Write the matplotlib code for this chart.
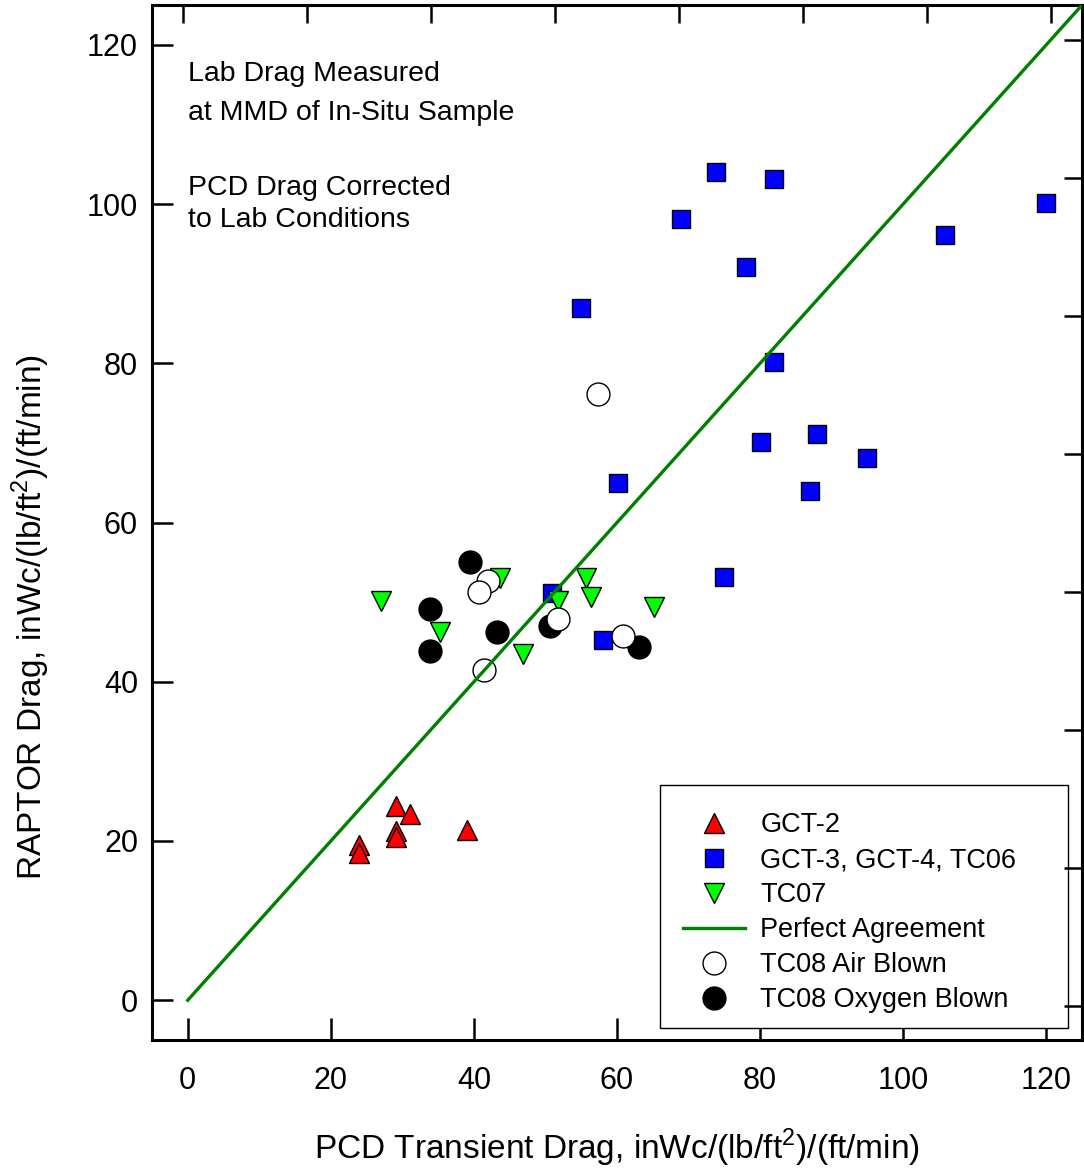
import numpy as np
import matplotlib
matplotlib.use('Agg')
import matplotlib.pyplot as plt
from matplotlib.patches import Rectangle

plt.rcParams['font.family'] = ['Liberation Sans', 'DejaVu Sans']
plt.rcParams['mathtext.fontset'] = 'custom'
plt.rcParams['mathtext.rm'] = 'Liberation Sans'

# data
gct2_x = [24.0, 24.0, 29.1, 29.1, 29.1, 31.0, 39.0]
gct2_y = [19.5, 18.5, 24.4, 21.3, 20.5, 23.4, 21.4]

gct3_x = [73.9, 81.9, 69.0, 78.0, 54.9, 82.0, 80.1, 88.0, 60.1, 94.9, 87.0, 74.9, 50.9, 58.1, 105.9, 119.9]
gct3_y = [104.0, 103.1, 98.1, 92.1, 87.0, 80.1, 70.1, 71.1, 65.0, 68.1, 64.0, 53.1, 51.1, 45.2, 96.1, 100.1]

tc07_x = [27.0, 43.6, 35.2, 55.6, 56.3, 51.7, 65.2, 46.9]
tc07_y = [50.1, 53.0, 46.3, 53.0, 50.6, 50.2, 49.4, 43.5]

air_x = [41.9, 40.7, 51.8, 60.8, 41.4, 57.3]
air_y = [52.7, 51.3, 47.9, 45.8, 41.5, 76.1]

oxy_x = [39.5, 33.9, 33.9, 43.2, 50.6, 63.1]
oxy_y = [55.0, 49.2, 43.8, 46.2, 47.0, 44.4]

line_x = [0, 125]
line_y = [0, 125]

notes = ['Lab Drag Measured', 'at MMD of In-Situ Sample', 'PCD Drag Corrected', 'to Lab Conditions']
notes_y = [116.3, 111.5, 102.0, 98.0]

fig = plt.figure(figsize=(10.84, 11.70), dpi=100)
ax = fig.add_axes([0.1402, 0.1111, 0.858, 0.8846])

ax.plot(gct2_x, gct2_y, '^', color='#ff0000', mec='black', mew=1.0, ms=14, label='GCT-2', zorder=3)
ax.plot(gct3_x, gct3_y, 's', color='#0000ff', mec='black', mew=1.0, ms=12.5, label='GCT-3, GCT-4, TC06', zorder=3)
ax.plot(tc07_x, tc07_y, 'v', color='#00ff00', mec='black', mew=1.0, ms=15, label='TC07', zorder=4)
ax.plot(line_x, line_y, '-', color='#008000', lw=2.4, label='Perfect Agreement', zorder=6)
ax.plot(air_x, air_y, 'o', color='white', mec='black', mew=1.0, ms=16.5, label='TC08 Air Blown', zorder=5)
ax.plot(oxy_x, oxy_y, 'o', color='black', mec='black', mew=1.0, ms=16.5, label='TC08 Oxygen Blown', zorder=4)

ax.set_xlim(-5, 125)
ax.set_ylim(-5, 125)
ax.set_xticks(np.arange(0, 121, 20))
ax.set_yticks(np.arange(0, 121, 20))
ax.tick_params(axis='x', direction='in', length=16, width=1.8, labelsize=22, pad=19)
ax.tick_params(axis='y', direction='in', length=15, width=1.8, labelsize=22, pad=10)
for s in ax.spines.values():
    s.set_linewidth(2.2)

ax.set_xlabel('PCD Transient Drag, inWc/(lb/ft$^2$)/(ft/min)', fontsize=24, labelpad=22)
ax.set_ylabel('RAPTOR Drag, inWc/(lb/ft$^2$)/(ft/min)', fontsize=24, labelpad=22)
ax.yaxis.set_label_coords(-0.107, 0.409)

# mirrored ticks on top/right (different spacing in original)
ax2 = fig.add_axes(ax.get_position(), frameon=False)
ax2.set_xlim(0, 1)
ax2.set_ylim(0, 1)
mirror = 1 / 30 + np.arange(8) * 2 / 15
ax2.set_xticks(mirror)
ax2.set_yticks(mirror)
ax2.xaxis.tick_top()
ax2.yaxis.tick_right()
ax2.tick_params(direction='in', length=13, width=1.8, labeltop=False, labelright=False)
ax2.patch.set_visible(False)

for t, ty in zip(notes, notes_y):
    ax.text(0, ty, t, fontsize=20.5, va='center')

# legend box drawn separately, it is wider than the entries
ax.add_patch(Rectangle((0.546, 0.0116), 0.439, 0.2344, transform=ax.transAxes,
                       facecolor='white', edgecolor='black', lw=1.0, zorder=9))
leg = ax.legend(loc='upper left', bbox_to_anchor=(0.571, 0.220), fontsize=19.5, frameon=False,
                handlelength=2.3, handletextpad=0.55, labelspacing=0.33,
                borderpad=0, borderaxespad=0, numpoints=1)
leg.set_zorder(10)

fig.savefig('out.png', dpi=100)
